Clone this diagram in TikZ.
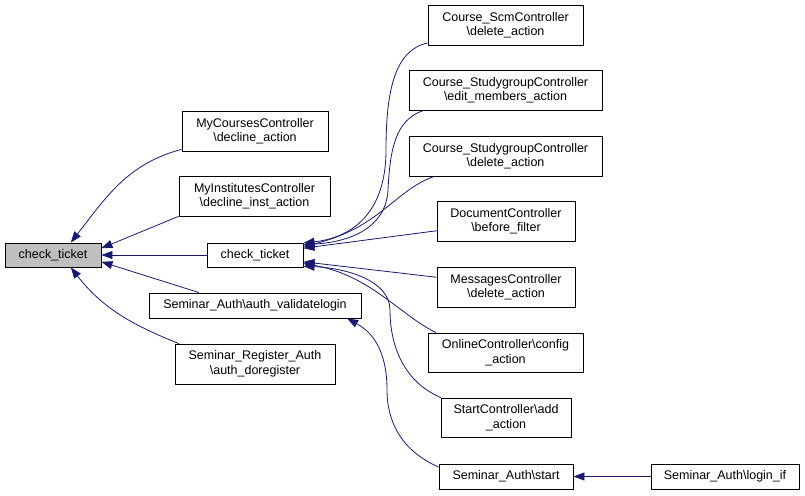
\documentclass[tikz,border=0pt]{standalone}
\usepackage{fontspec}
\setmainfont{Liberation Sans}
\usetikzlibrary{arrows.meta}
\definecolor{edgeblue}{HTML}{191970}
\definecolor{hlgray}{HTML}{BFBFBF}
\begin{document}
\begin{tikzpicture}[x=1pt,y=-1pt,
  fn/.style={draw=black, line width=0.9pt, fill=white, align=center, inner sep=0pt,
    font=\fontsize{12.5}{14.5}\selectfont},
  hl/.style={fn, fill=hlgray},
  edge/.style={draw=edgeblue, line width=0.8pt, -{Triangle[length=11pt,width=8pt]}}]
\useasboundingbox (0,0) rectangle (805,495);
% caller boxes, left half
\node[hl, minimum width=96pt, minimum height=24pt] (main) at (53,255) {check\_ticket};
\node[fn, minimum width=146pt, minimum height=40pt] (mycourses) at (255,131) {MyCoursesController\\\textbackslash decline\_action};
\node[fn, minimum width=151pt, minimum height=40pt] (myinst) at (254.5,196) {MyInstitutesController\\\textbackslash decline\_inst\_action};
\node[fn, minimum width=96pt, minimum height=24pt] (ticket) at (255,255) {check\_ticket};
\node[fn, minimum width=212pt, minimum height=25pt] (validate) at (255,305.5) {Seminar\_Auth\textbackslash auth\_validatelogin};
\node[fn, minimum width=160pt, minimum height=40pt] (doreg) at (255,364) {Seminar\_Register\_Auth\\\textbackslash auth\_doregister};
% caller boxes, right half
\node[fn, minimum width=155pt, minimum height=40pt] (scm) at (505.5,25) {Course\_ScmController\\\textbackslash delete\_action};
\node[fn, minimum width=193pt, minimum height=40pt] (sgedit) at (505.5,90) {Course\_StudygroupController\\\textbackslash edit\_members\_action};
\node[fn, minimum width=193pt, minimum height=40pt] (sgdel) at (505.5,156) {Course\_StudygroupController\\\textbackslash delete\_action};
\node[fn, minimum width=138pt, minimum height=40pt] (docctl) at (506,221) {DocumentController\\\textbackslash before\_filter};
\node[fn, minimum width=138pt, minimum height=40pt] (msgctl) at (506,287) {MessagesController\\\textbackslash delete\_action};
\node[fn, minimum width=155pt, minimum height=39pt] (online) at (505.5,352.5) {OnlineController\textbackslash config\\\_action};
\node[fn, minimum width=130pt, minimum height=39pt] (startadd) at (506,417.5) {StartController\textbackslash add\\\_action};
\node[fn, minimum width=134pt, minimum height=25pt] (start) at (506,476.5) {Seminar\_Auth\textbackslash start};
\node[fn, minimum width=148pt, minimum height=25pt] (loginif) at (725,476.5) {Seminar\_Auth\textbackslash login\_if};
% calls into main
\draw[edge] (mycourses.194) to[out=195,in=52] (main.35);
\draw[edge] (myinst.195) -- (main.8);
\draw[edge] (ticket) -- (main);
\draw[edge] (validate.167) -- (main.-8);
\draw[edge] (doreg.165) to[out=158,in=-52] (main.-35);
% calls into the second check_ticket
\draw[edge] (scm.193) .. controls (395,50) and (386,90) .. (386,150) .. controls (386,215) and (350,238) .. (ticket.14);
\draw[edge] (sgedit.194) .. controls (395,120) and (390,150) .. (388,190) .. controls (386,228) and (350,242) .. (ticket.12);
\draw[edge] (sgdel.196) .. controls (395,190) and (380,228) .. (ticket.10);
\draw[edge] (docctl.188) -- (ticket.8);
\draw[edge] (msgctl.172) -- (ticket.-8);
\draw[edge] (online.164) .. controls (400,315) and (370,275) .. (ticket.-10);
\draw[edge] (startadd.163) .. controls (400,380) and (390,340) .. (390,310) .. controls (390,280) and (345,268) .. (ticket.-13);
% start chain
\draw[edge] (start.172) .. controls (400,450) and (387,420) .. (387,390) .. controls (387,350) and (372,332) .. (validate.-8);
\draw[edge] (loginif) -- (start);
\end{tikzpicture}
\end{document}
